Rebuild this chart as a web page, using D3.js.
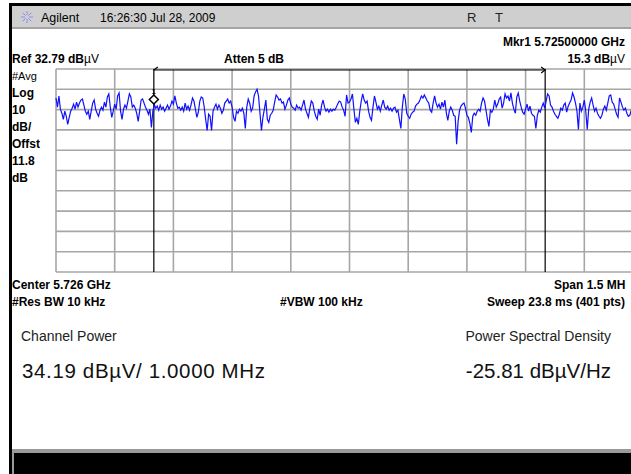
<!DOCTYPE html>
<html>
<head>
<meta charset="utf-8">
<script src="https://cdn.jsdelivr.net/npm/d3@7"></script>
<style>
  body { margin: 0; background: #fff; }
  svg text { font-family: "Liberation Sans", Arial, sans-serif; }
  .bold { font-weight: bold; font-size: 12px; }
</style>
</head>
<body>
<div id="chart"></div>
<script>
// screen settings
const refLevel = 32.79;      // dBuV, top line
const dbPerDiv = 10;
const startGHz = 5.72475;
const stopGHz = 5.72625;
const chanEdges = [5.725, 5.726];
const markerGHz = 5.725;
const markerIdx = 67;

// trace, 401 pts, dBuV
const traceDb = [
  18.5,14,19.5,13,11,8,12,9.5,5.5,9,12,13.5,15.5,13,16.5,14,16,17.5,18,15,
  12,10.5,12,8,12,16,17.5,13,11,9.5,12.5,14,12.5,16.5,14,19,20.5,14,9,12,
  15.5,13,19.5,21,12,8,13,15,13.5,17,20.5,19,14,15,13.5,11,7,12,17.5,18,
  16,14,12.5,10.5,13,4,12,15.3,13.5,14.5,12.5,15,13,14,12,13.5,15,13,14.5,17,
  15.5,19.5,16,13.5,14,12.5,14,12,16,13,14.5,12.5,15,18.5,17,13,9,
  11.5,17,19,18.5,14,8,2.5,10.5,9.5,2.5,12,14,15.5,13,15,13.5,11,12.5,16,17,
  18,16,17,14,9,7,12,11,13,12,13.5,11,3.5,14,18,16,12,13.5,19.5,21.5,
  22.8,19.5,11,2.5,9,13,17.5,8,6.5,10,11,12.5,16.5,20,19,17.5,18,16,16.5,13,
  15,17.5,18.5,15.5,14,13.5,12.5,15,13.5,14,12.5,15,17.5,13,11,9,13.5,17,16,12,
  9.5,8,13,10,15,17.5,14,12,13,11.5,13,12,13,12.5,14,15.5,17,16.5,
  14,12.5,9.5,20,16,16.5,18,20.5,13,6.5,8.5,5.5,12,17,20.5,17.5,16,17,12,9,
  7.5,14,19.5,16.5,13,14.5,12,15,17.5,14,13,14.5,12.5,13.5,12,13.5,14,11.5,12.5,8,
  3.5,14,20.5,18,11,9.5,8.5,10.5,11.5,12,14.5,15.5,16,17.5,19.5,18.5,20,18.5,17,16,
  12.5,11.5,16,19.5,16,14,15.5,13,16.5,14,17.5,11,7.5,12,14,12.5,10,9.5,-4.3,7,
  12.5,14.5,15.5,16,13.5,10,9,6,1.5,9.5,11,10,12,13,12,16,18.5,17,12.5,8,4.5,
  12.5,11.5,13,17.5,14,15.5,18,19,13.5,16,20.5,18.5,19.5,17,21,16,13,11,19,21,
  17,14,11.5,10.5,13,15.5,12,14.5,11,10,9.5,3.5,10,12.5,11.5,14,16,13.5,17,20.5,
  19.5,15,14,12,10.5,9.5,8.5,10.5,13.5,12.5,15,16,11.5,14.5,16,17.5,21,19,16,12,
  3,16,12,14,17.5,12,3,13,16.5,18.5,15,12,13.5,11,9.5,8.5,10,13,14.5,12.5,
  16,19.5,20,16.5,15.5,13,10.5,9,18.5,16.5,14,12.5,13.5,11,9.5,10,12.5,
  14,16.5,13,11.5,15,17,13.5,12
];

const leftLabels = [
  {t: "#Avg", bold: false},
  {t: "Log", bold: true},
  {t: "10", bold: true},
  {t: "dB/", bold: true},
  {t: "Offst", bold: true},
  {t: "11.8", bold: true},
  {t: "dB", bold: true}
];

const W = 631, H = 474;
const plot = {left: 56, right: 643, top: 69, bottom: 272};

const svg = d3.select("#chart").append("svg")
    .attr("width", W).attr("height", H);

svg.append("rect").attr("width", W).attr("height", H).attr("fill", "#fff");

// title bar
svg.append("rect").attr("x", 12).attr("y", 6).attr("width", W - 12).attr("height", 22).attr("fill", "#cfcfcf");
svg.append("rect").attr("x", 12).attr("y", 27).attr("width", W - 12).attr("height", 2).attr("fill", "#a4a4a4");
svg.append("rect").attr("x", 9).attr("y", 3).attr("width", W - 9).attr("height", 3).attr("fill", "#000");
svg.append("rect").attr("x", 9).attr("y", 3).attr("width", 3).attr("height", H - 3).attr("fill", "#000");

// little agilent spark
const spark = svg.append("g").attr("transform", "translate(27,17)").attr("stroke", "#8c8cf0").attr("stroke-width", 1);
d3.range(8).forEach(k => {
  const a = k * Math.PI / 4;
  spark.append("line").attr("x1", Math.cos(a) * 2).attr("y1", Math.sin(a) * 2)
    .attr("x2", Math.cos(a) * 6).attr("y2", Math.sin(a) * 6);
});
svg.append("text").attr("x", 41).attr("y", 22).attr("font-size", 12.5).text("Agilent");
svg.append("text").attr("x", 100).attr("y", 22).attr("font-size", 12).text("16:26:30  Jul 28, 2009");
svg.append("text").attr("x", 467).attr("y", 22).attr("font-size", 13).attr("fill", "#222").text("R");
svg.append("text").attr("x", 495).attr("y", 22).attr("font-size", 13).attr("fill", "#222").text("T");

// header texts
svg.append("text").attr("class", "bold").attr("x", 625).attr("y", 46).attr("text-anchor", "end").text("Mkr1  5.72500000 GHz");
const mk = svg.append("text").attr("class", "bold").attr("x", 625).attr("y", 63).attr("text-anchor", "end");
mk.append("tspan").text("15.3 dB");
mk.append("tspan").attr("font-weight", "normal").text("µV");
const ref = svg.append("text").attr("class", "bold").attr("x", 12).attr("y", 63);
ref.append("tspan").text("Ref 32.79 dB");
ref.append("tspan").attr("font-weight", "normal").text("µV");
svg.append("text").attr("class", "bold").attr("x", 224).attr("y", 63).text("Atten 5 dB");

// scales
const x = d3.scaleLinear().domain([startGHz, stopGHz]).range([plot.left, plot.right]);
const y = d3.scaleLinear().domain([refLevel - 10 * dbPerDiv, refLevel]).range([plot.bottom, plot.top]);

const xTicks = d3.range(11).map(k => startGHz + k * (stopGHz - startGHz) / 10);
const yTicks = d3.range(11).map(k => refLevel - k * dbPerDiv);

const grid = svg.append("g").attr("stroke", "#a6a6a6").attr("stroke-width", 1.6);
grid.selectAll(".gx").data(xTicks).join("line")
    .attr("x1", d => x(d)).attr("x2", d => x(d))
    .attr("y1", plot.top).attr("y2", plot.bottom);
grid.selectAll(".gy").data(yTicks).join("line")
    .attr("x1", plot.left).attr("x2", plot.right)
    .attr("y1", d => y(d)).attr("y2", d => y(d));

// channel power bandwidth markers
const chan = svg.append("g").attr("stroke", "#000").attr("stroke-width", 1.2).attr("fill", "none");
chanEdges.forEach(f => {
  chan.append("line").attr("x1", x(f)).attr("x2", x(f)).attr("y1", plot.top).attr("y2", plot.bottom);
});
chan.append("line").attr("x1", x(chanEdges[0])).attr("x2", x(chanEdges[1]))
    .attr("y1", y(refLevel) + 1).attr("y2", y(refLevel) + 1);
chan.append("path").attr("d", `M${x(chanEdges[0]) + 4},${plot.top - 2}L${x(chanEdges[0])},${plot.top + 1}`);
chan.append("path").attr("d", `M${x(chanEdges[1]) - 4},${plot.top - 2}L${x(chanEdges[1])},${plot.top + 1}L${x(chanEdges[1]) - 4},${plot.top + 4}`);

// trace
const fStep = (stopGHz - startGHz) / (traceDb.length - 1);
const line = d3.line()
    .x((d, i) => x(startGHz + i * fStep))
    .y(d => y(d));
svg.append("path").datum(traceDb)
    .attr("d", line)
    .attr("fill", "none")
    .attr("stroke", "#1010ff")
    .attr("stroke-width", 1.2);

// marker
const mx = x(markerGHz), my = y(traceDb[markerIdx]) - 5;
svg.append("path")
    .attr("d", `M${mx},${my - 4.5}L${mx + 4.5},${my}L${mx},${my + 4.5}L${mx - 4.5},${my}Z`)
    .attr("fill", "#fff").attr("stroke", "#000").attr("stroke-width", 1.5);
svg.append("text").attr("x", mx - 2).attr("y", my - 6).attr("font-size", 7).attr("font-weight", "bold").text("1");

// left annotations
svg.selectAll(".lab").data(leftLabels).join("text")
    .attr("x", 12)
    .attr("y", (d, i) => 80 + i * 17)
    .attr("font-size", d => d.bold ? 12 : 11)
    .attr("font-weight", d => d.bold ? "bold" : "normal")
    .text(d => d.t);

// footer
svg.append("text").attr("class", "bold").attr("x", 12).attr("y", 289).text("Center 5.726 GHz");
svg.append("text").attr("class", "bold").attr("x", 554).attr("y", 289).text("Span 1.5 MH");
svg.append("text").attr("class", "bold").attr("x", 12).attr("y", 306).text("#Res BW 10 kHz");
svg.append("text").attr("class", "bold").attr("x", 280).attr("y", 306).text("#VBW 100 kHz");
svg.append("text").attr("class", "bold").attr("x", 625).attr("y", 306).attr("text-anchor", "end").text("Sweep 23.8 ms (401 pts)");

svg.append("text").attr("x", 21).attr("y", 341).attr("font-size", 14).attr("fill", "#222").text("Channel Power");
svg.append("text").attr("x", 611).attr("y", 341).attr("font-size", 14).attr("fill", "#222").attr("text-anchor", "end").text("Power Spectral Density");
svg.append("text").attr("x", 22).attr("y", 378).attr("font-size", 20.5).attr("fill", "#111")
    .attr("textLength", 243).attr("lengthAdjust", "spacing").text("34.19 dBµV/ 1.0000 MHz");
svg.append("text").attr("x", 611).attr("y", 378).attr("font-size", 20.5).attr("fill", "#111").attr("text-anchor", "end").text("-25.81 dBµV/Hz");

// bottom softkey bar
svg.append("rect").attr("x", 12).attr("y", 449).attr("width", W - 12).attr("height", H - 449).attr("fill", "#9a9a9a");
svg.append("rect").attr("x", 14).attr("y", 453).attr("width", W - 14).attr("height", H - 453).attr("fill", "#000");
</script>
</body>
</html>
